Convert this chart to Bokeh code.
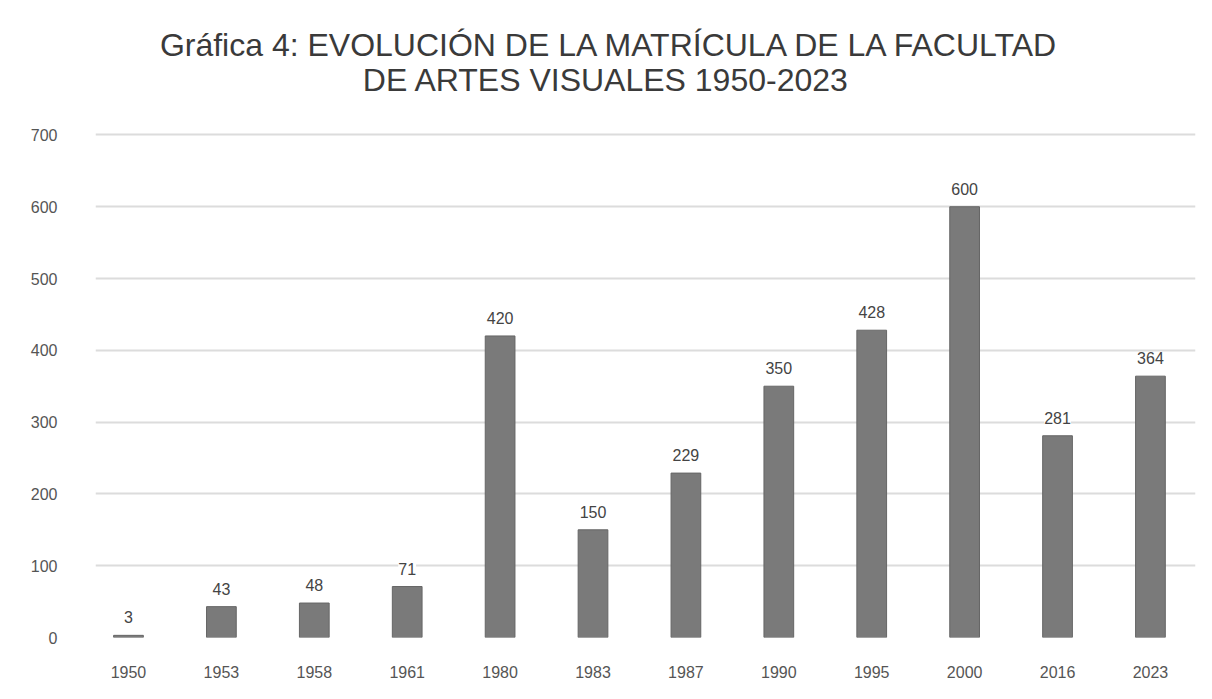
from bokeh.plotting import figure
from bokeh.models import ColumnDataSource, Range1d, LabelSet, FixedTicker, Label
from bokeh.core.properties import value
from bokeh.embed import file_html
from bokeh.resources import INLINE

years = ["1950", "1953", "1958", "1961", "1980", "1983", "1987", "1990", "1995", "2000", "2016", "2023"]
matricula = [3, 43, 48, 71, 420, 150, 229, 350, 428, 600, 281, 364]
y_ticks = [0, 100, 200, 300, 400, 500, 600, 700]
title_lines = ["Gráfica 4: EVOLUCIÓN DE LA MATRÍCULA DE LA FACULTAD", "DE ARTES VISUALES  1950-2023"]

idx = list(range(len(years)))
src = ColumnDataSource(dict(x=idx, top=matricula, lab=[str(v) for v in matricula]))

FONT = "Liberation Sans"

# the frame extends above the 700 line so the two-line title sits inside it
p = figure(width=1204, height=691, output_backend="svg", toolbar_location=None,
           x_range=Range1d(-0.355, 11.485), y_range=Range1d(0, 873.3),
           min_border_left=95, min_border_right=9, min_border_top=10, min_border_bottom=54)
p.title.visible = False

for line, ypos in zip(title_lines, [824.6, 775.9]):
    p.add_layout(Label(x=5.19, y=ypos, text=line, text_align="center",
                       text_baseline="middle", text_font=FONT, text_font_size="32px",
                       text_color="#3a3a3a"))

p.vbar(x="x", top="top", width=0.32, bottom=0, source=src,
       fill_color="#7a7a7a", line_color="#666666", line_width=1)

labels = LabelSet(x="x", y="top", text="lab", source=src, text_align="center",
                  text_baseline="bottom", y_offset=12, text_font_size=value("16px"),
                  text_font=value(FONT), text_color="#444444",
                  background_fill_color="white")
p.add_layout(labels)

p.xaxis.ticker = FixedTicker(ticks=idx)
p.xaxis.major_label_overrides = {i: y for i, y in enumerate(years)}
p.yaxis.ticker = FixedTicker(ticks=y_ticks)

for ax in (p.xaxis, p.yaxis):
    ax.axis_line_color = None
    ax.major_tick_line_color = None
    ax.minor_tick_line_color = None
    ax.major_label_text_font = FONT
    ax.major_label_text_font_size = "16px"
    ax.major_label_text_color = "#555555"
p.yaxis.major_label_standoff = 32
p.xaxis.major_label_standoff = 22

p.xgrid.grid_line_color = None
p.ygrid.grid_line_color = "#dcdcdc"
p.ygrid.grid_line_width = 2
p.ygrid.ticker = FixedTicker(ticks=y_ticks)
p.outline_line_color = None

open("out.html", "w").write(file_html(p, INLINE))
